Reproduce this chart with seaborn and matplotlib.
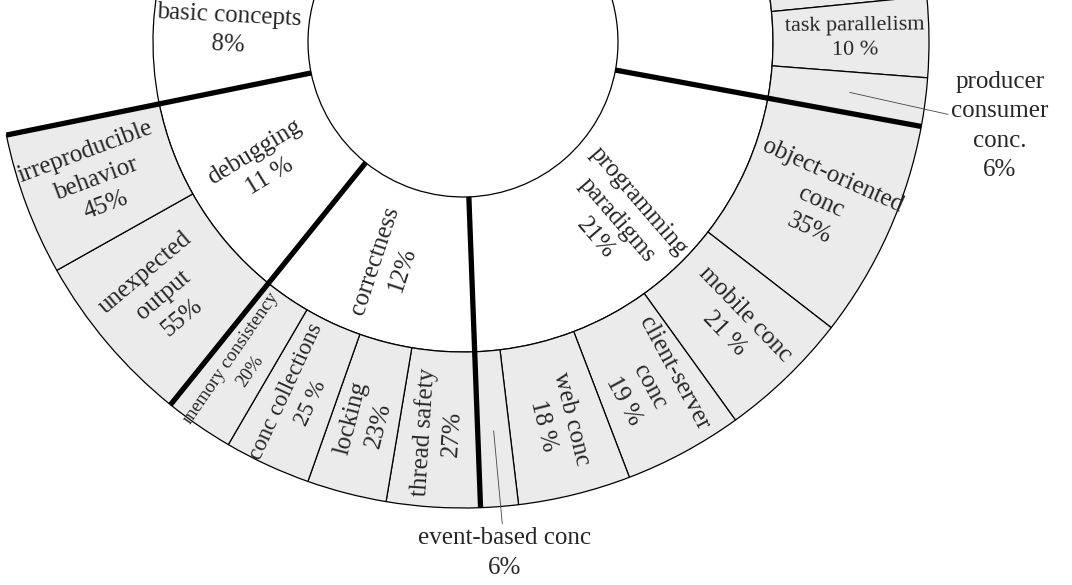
import numpy as np
import matplotlib
matplotlib.use('Agg')
import matplotlib.pyplot as plt
import seaborn as sns

# inner ring: topic groups, clockwise from 12 o'clock (None = cut off by the crop)
groups = [None, 'programming\nparadigms', 'correctness', 'debugging', 'basic concepts', None]
group_share = [27.9, 21.5, 11.4, 11.0, 8.0, 20.2]
group_pct = ['', '21%', '12%', '11 %', '8%', '']

# outer ring: sub-topics of each group, clockwise
subs = [
    [None, 'task parallelism', 'producer\nconsumer\nconc.'],
    ['object-oriented\nconc', 'mobile conc', 'client-server\nconc', 'web conc', 'event-based conc'],
    ['thread safety', 'locking', 'conc collections', 'memory consistency'],
    ['unexpected\noutput', 'irreproducible\nbehavior'],
    [],
    [],
]
sub_share = [
    [84, 10, 6],
    [35, 21, 19, 18, 6],
    [27, 23, 25, 20],
    [55, 45],
    [],
    [],
]
sub_pct = [
    ['', '10 %', '6%'],
    ['35%', '21 %', '19 %', '18 %', '6%'],
    ['27%', '23%', '25 %', '20%'],
    ['55%', '45%'],
    [],
    [],
]

# style / layout
R0, R1, R2 = 155, 310, 466          # hole, inner ring edge, outer ring edge (px)
cx, cy = 463, 42                     # pie centre in picture pixels
gray = '#ebebeb'
fs = 18
font_size = {'task parallelism': 16, 'conc collections': 16.5, 'memory consistency': 13.5}
callout = {'event-based conc': (42, -511), 'producer\nconsumer\nconc.': (537, -84)}

sns.set_theme(style='white')
plt.rcParams['font.family'] = ['Liberation Serif', 'DejaVu Serif']

# flatten outer ring
outer_size, outer_name, outer_pct, outer_on = [], [], [], []
for g, share in enumerate(group_share):
    if sub_share[g]:
        tot = sum(sub_share[g])
        for n, s, p in zip(subs[g], sub_share[g], sub_pct[g]):
            outer_size.append(share * s / tot)
            outer_name.append(n)
            outer_pct.append(p)
            outer_on.append(True)
    else:
        outer_size.append(share)
        outer_name.append(None)
        outer_pct.append('')
        outer_on.append(False)

fig = plt.figure(figsize=(10.72, 5.85), dpi=100)
ax = fig.add_axes([0, 0, 1, 1])

inner, _ = ax.pie(group_share, radius=R1, startangle=90, counterclock=False,
                  colors=['white'] * len(group_share),
                  wedgeprops=dict(width=R1 - R0, edgecolor='black', linewidth=0.9))
outer, _ = ax.pie(outer_size, radius=R2, startangle=90, counterclock=False,
                  colors=[gray] * len(outer_size),
                  wedgeprops=dict(width=R2 - R1, edgecolor='black', linewidth=0.9))
for w, on in zip(outer, outer_on):
    w.set_visible(on)


def mid_angle(w):
    a = (w.theta1 + w.theta2) / 2
    return (a + 180) % 360 - 180


def put_label(w, r, text, size):
    a = mid_angle(w)
    rot = a
    if a > 90:
        rot = a - 180
    elif a < -90:
        rot = a + 180
    t = np.deg2rad(a)
    ax.text(r * np.cos(t), r * np.sin(t), text, rotation=rot, rotation_mode='anchor',
            ha='center', va='center', multialignment='center', fontsize=size,
            linespacing=1.4, zorder=5)


for w, n, p in zip(inner, groups, group_pct):
    if n:
        put_label(w, 235, n + '\n' + p, fs)

for w, n, p in zip(outer, outer_name, outer_pct):
    if not n:
        continue
    if n in callout:
        t = np.deg2rad(mid_angle(w))
        ax.annotate(n + '\n' + p, xy=(390 * np.cos(t), 390 * np.sin(t)), xytext=callout[n],
                    ha='center', va='center', multialignment='center', fontsize=fs,
                    linespacing=1.45,
                    arrowprops=dict(arrowstyle='-', lw=0.6, color='#444444',
                                    shrinkA=0, shrinkB=0), zorder=5)
    else:
        put_label(w, 392, n + '\n' + p, font_size.get(n, fs))

# thick separators between groups
for w in inner:
    t = np.deg2rad(w.theta1)
    ax.plot([R0 * np.cos(t), R2 * np.cos(t)], [R0 * np.sin(t), R2 * np.sin(t)],
            color='black', lw=3.8, solid_capstyle='butt', zorder=4)

ax.set_xlim(-cx, 1072 - cx)
ax.set_ylim(cy - 585, cy)
ax.set_aspect('equal')
ax.axis('off')

fig.savefig('out.png', dpi=100)
